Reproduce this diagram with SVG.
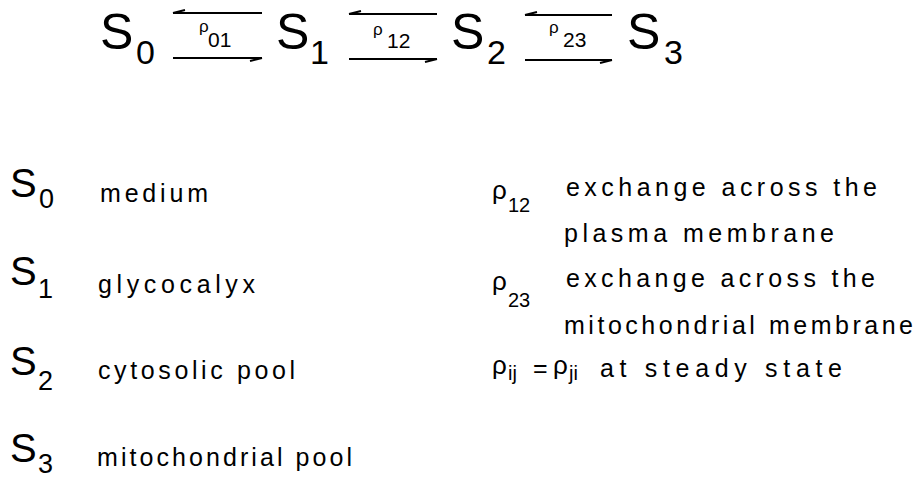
<svg xmlns="http://www.w3.org/2000/svg" width="918" height="480" viewBox="0 0 918 480">
<style>
text{font-family:"Liberation Sans","DejaVu Sans",sans-serif;fill:#000}
.big{font-size:50px}
.bsub{font-size:34px}
.rl{font-size:17px}
.rs{font-size:21px}
.ls{font-size:40px}
.lsub{font-size:27px}
.lbl{font-size:25px}
.rho{font-size:26px}
.rsub{font-size:20px}
.ln{stroke:#000;stroke-width:2;fill:none}
</style>
<rect width="918" height="480" fill="#fff"/>
<g id="S0"><text class="big" x="100" y="49">S</text><text class="bsub" x="136" y="64">0</text></g>
<g id="S1"><text class="big" x="276" y="49">S</text><text class="bsub" x="310" y="64">1</text></g>
<g id="S2"><text class="big" x="451" y="49">S</text><text class="bsub" x="487" y="64">2</text></g>
<g id="S3"><text class="big" x="627" y="49">S</text><text class="bsub" x="664" y="64">3</text></g>
<g id="connectors">
<path class="ln" d="M173 13H262M173 13l12 -3M173 58H262M262 58l-12 3"/>
<path class="ln" d="M349 14H437M349 14l12 -3M349 59H437M437 59l-12 3"/>
<path class="ln" d="M525 15H612M525 15l12 -3M525 60H612M612 60l-12 3"/>
<text class="rl" x="199" y="32">ρ</text><text class="rs" x="208" y="47">01</text>
<text class="rl" x="373" y="35">ρ</text><text class="rs" x="387" y="48">12</text>
<text class="rl" x="549" y="33">ρ</text><text class="rs" x="563" y="47">23</text>
</g>
<g id="leg-S0"><text class="ls" x="10" y="197">S</text><text class="lsub" x="39" y="208">0</text><text class="lbl" x="100" y="202" textLength="108" lengthAdjust="spacing">medium</text></g>
<g id="leg-S1"><text class="ls" x="10" y="285">S</text><text class="lsub" x="38" y="298">1</text><text class="lbl" x="98" y="293" textLength="157" lengthAdjust="spacing">glycocalyx</text></g>
<g id="leg-S2"><text class="ls" x="10" y="375">S</text><text class="lsub" x="38" y="390">2</text><text class="lbl" x="98" y="379" textLength="197" lengthAdjust="spacing">cytosolic pool</text></g>
<g id="leg-S3"><text class="ls" x="10" y="462">S</text><text class="lsub" x="38" y="473">3</text><text class="lbl" x="97" y="466" textLength="255" lengthAdjust="spacing">mitochondrial pool</text></g>
<g id="leg-p12"><text class="rho" x="492" y="199">ρ</text><text class="rsub" x="508" y="212">12</text>
<text class="lbl" x="566" y="196" textLength="311" lengthAdjust="spacing">exchange across the</text>
<text class="lbl" x="564" y="242" textLength="270" lengthAdjust="spacing">plasma membrane</text></g>
<g id="leg-p23"><text class="rho" x="492" y="290">ρ</text><text class="rsub" x="508" y="307">23</text>
<text class="lbl" x="566" y="287" textLength="309" lengthAdjust="spacing">exchange across the</text>
<text class="lbl" x="564" y="334" textLength="349" lengthAdjust="spacing">mitochondrial membrane</text></g>
<g id="leg-pij"><text class="rho" x="492" y="374">ρ</text><text class="rsub" x="508" y="380">ij</text>
<text class="lbl" x="533" y="377">=</text>
<text class="rho" x="553" y="374">ρ</text><text class="rsub" x="569" y="380">ji</text>
<text class="lbl" x="600" y="377" textLength="242" lengthAdjust="spacing">at steady state</text></g>
</svg>
